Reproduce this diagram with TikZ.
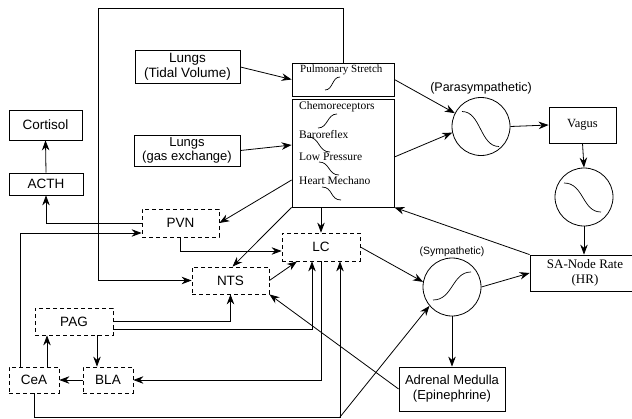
\documentclass[tikz,border=0pt]{standalone}
\usepackage{fontspec}
\setmainfont{Liberation Serif}
\setsansfont{Liberation Sans}
\usetikzlibrary{arrows.meta}

\begin{document}
\begin{tikzpicture}[x=1pt,y=-1pt,
    box/.style={draw, line width=0.8pt, inner sep=0pt, align=center, font=\sffamily\fontsize{13.5}{15}\selectfont},
    dbox/.style={box, dash pattern=on 4pt off 3pt},
    serifbox/.style={box, font=\rmfamily\fontsize{12.5}{15}\selectfont},
    unit/.style={draw, circle, line width=0.8pt, minimum size=58pt, inner sep=0pt},
    tag/.style={inner sep=0pt, anchor=west, font=\rmfamily\fontsize{11.5}{13}\selectfont},
    link/.style={line width=0.8pt, -{Stealth[length=10pt,width=7.5pt]}},
    curve/.style={line width=0.7pt}
  ]
  \useasboundingbox (0,0) rectangle (632,418);

  % inputs
  \node[box, minimum width=105pt, minimum height=33pt] (tidal) at (187.5,67) {Lungs\\(Tidal Volume)};
  \node[box, minimum width=106pt, minimum height=31pt, font=\sffamily\fontsize{13}{14.5}\selectfont] (gas) at (187,150.5) {Lungs\\(gas exchange)};
  \node[box, minimum width=73pt, minimum height=30pt] (cortisol) at (45.5,125) {Cortisol};
  \node[box, minimum width=74pt, minimum height=22pt] (acth) at (46,184) {ACTH};

  % receptors
  \node[box, minimum width=102pt, minimum height=33pt] (pulm) at (343,79.5) {};
  \node[box, minimum width=102pt, minimum height=108pt] (chemo) at (343,153) {};
  \node[tag, font=\rmfamily\fontsize{11}{13}\selectfont] (pulmtxt) at (300,70) {Pulmonary Stretch};
  \node[tag] (chemotxt) at (299,107) {Chemoreceptors};
  \node[tag] (barotxt) at (299,135) {Baroreflex};
  \node[tag] (lowtxt) at (299,157) {Low Pressure};
  \node[tag] (hearttxt) at (299,181) {Heart Mechano};
  \draw[curve] (325,90) .. controls (333,90) and (332,77) .. (340,77); % pulmonary
  \draw[curve] (318,128) .. controls (328,128) and (327,114) .. (337,114); % chemo
  \draw[curve] (308,137) .. controls (320,137) and (318,152) .. (330,152); % baro
  \draw[curve] (319,162) .. controls (330,162) and (328,175) .. (339,175); % low pressure
  \draw[curve] (322,187) .. controls (333,187) and (330,200) .. (341,200); % heart mechano

  % outflow
  \node[unit] (para) at (481,126.5) {};
  \node[font=\sffamily\fontsize{12.5}{14}\selectfont] (paratxt) at (481,88) {(Parasympathetic)};
  \node[serifbox, minimum width=67pt, minimum height=36pt] (vagus) at (582.5,125) {Vagus};
  \node[unit] (vagc) at (584,197) {};
  \node[serifbox, minimum width=110pt, minimum height=36pt, font=\rmfamily\fontsize{13}{15}\selectfont] (sanode) at (585,273) {SA-Node Rate\\(HR)};
  \node[unit] (symp) at (452,287) {};
  \node[font=\sffamily\fontsize{10.5}{12}\selectfont] (symptxt) at (452,252) {(Sympathetic)};
  \node[box, minimum width=106pt, minimum height=44pt, font=\sffamily\fontsize{13}{15}\selectfont] (adrenal) at (452,389) {Adrenal Medulla\\(Epinephrine)};
  \draw[curve, shift={(para.center)}] (-19,-15) .. controls (0,-15) and (-1,20) .. (18,20);
  \draw[curve, shift={(vagc.center)}] (-20,-14) .. controls (0,-14) and (-2,15) .. (17,15);
  \draw[curve, shift={(symp.center)}] (-19,13) .. controls (1,13) and (0,-15) .. (19,-15);

  % brain areas
  \node[dbox, minimum width=78pt, minimum height=28pt] (lc) at (321,247) {LC};
  \node[dbox, minimum width=77pt, minimum height=27pt] (nts) at (230.5,280.5) {NTS};
  \node[dbox, minimum width=77pt, minimum height=28pt] (pvn) at (180.5,223) {PVN};
  \node[dbox, minimum width=78pt, minimum height=27pt] (pag) at (74,321.5) {PAG};
  \node[dbox, minimum width=50pt, minimum height=26pt] (cea) at (34,380) {CeA};
  \node[dbox, minimum width=50pt, minimum height=26pt] (bla) at (108,380) {BLA};

  \coordinate (toploop) at (98,8);
  \coordinate (cbot) at (340,417);

  % connections
  \draw[link] (tidal.east) -- (pulm.west);
  \draw[link] (gas.east) -- ([yshift=8pt]chemo.west);
  \draw[link] (acth.north) -- (cortisol.south);
  \draw[link] (pulm.east) -- (para.153);
  \draw[link] ([yshift=-4pt]chemo.east) -- (para.192);
  \draw[link] (para.east) -- (vagus.west);
  \draw[link] (vagus.south) -- (vagc.north);
  \draw[link] (vagc.south) -- (vagc.south |- sanode.north);
  \draw[link] (sanode.north west) -- (chemo.south east);
  \draw[link] (symp.east) -- (sanode.west);
  \draw[link] (lc.east) -- (symp.170);
  \draw[link] (symp.south) -- (adrenal.north);
  \draw[link] (adrenal.west) -- (nts.south east);
  \draw[link] (chemo.south -| lc.north) -- (lc.north);
  \draw[link] (chemo.south west) -- ([xshift=2pt]nts.north);
  \draw[link] ([yshift=-27pt]chemo.west) -- (pvn.east);
  \draw[link] (pvn.west) -| (acth.south);
  \draw[link] ([xshift=-14pt]cea.north) |- ([yshift=-10pt]pvn.west);
  \draw[link] ([xshift=13pt]cea.north) -- ([xshift=13pt]cea.north |- pag.south);
  \draw[link] ([xshift=23pt]pag.south) -- ([xshift=23pt]pag.south |- bla.north);
  \draw[link] (bla.west) -- (cea.east);
  \draw[link] (pvn.south) |- ([yshift=-4pt]lc.west);
  \draw[link] (nts.east) -- ([xshift=-24pt]lc.south);
  \draw[link] (pulm.north) |- (toploop) |- (nts.west); % stretch feedback
  \draw[link] (pag.east) -| (nts.south);
  \draw[link] ([yshift=-8pt]pag.east) -| ([xshift=-9pt]lc.south);
  \draw[link] (lc.south) |- (bla.east);
  \draw[link] (cea.south) |- (cbot) -- ([xshift=19pt]lc.south);
  \draw[link] (cbot) -- (symp.220);
\end{tikzpicture}
\end{document}
